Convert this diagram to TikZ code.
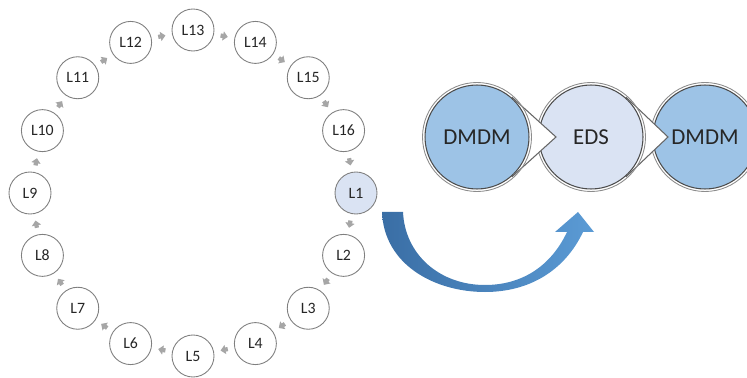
\documentclass[tikz,border=0pt]{standalone}
\usepackage{fontspec}
\setmainfont{Carlito}
\usetikzlibrary{calc,arrows.meta}

\definecolor{ringline}{HTML}{7F7F7F}
\definecolor{ringarr}{HTML}{A6A6A6}
\definecolor{paleblue}{HTML}{DAE3F3}
\definecolor{midblue}{HTML}{9DC3E6}
\definecolor{darkblue}{HTML}{3A6EA5}
\definecolor{lightblue}{HTML}{5B9BD5}
\definecolor{txt}{HTML}{262626}

\begin{document}
\begin{tikzpicture}[x=0.02cm,y=-0.02cm]
  \tikzstyle{ring}=[circle,draw=ringline,line width=0.5pt,fill=white,minimum size=0.84cm,
    inner sep=0pt,text=txt,font=\fontsize{9}{10}\selectfont]
  \tikzstyle{ringarrow}=[draw=ringarr,line width=2.4pt,-{Triangle[length=2.8pt,width=5.2pt]},
    shorten <=3.8pt,shorten >=3.8pt]
  \tikzstyle{stage}=[circle,draw=black!70,line width=0.6pt,minimum size=2.08cm,inner sep=0pt,
    text=txt,font=\fontsize{13}{15}\selectfont]
  \tikzstyle{halo}=[draw=black!45,line width=0.5pt]
  \tikzstyle{tip}=[fill=white,draw=black!60,line width=0.6pt,line join=miter]

  \useasboundingbox (0,0) rectangle (747,378);
  \coordinate (ctr) at (193,193);

  % the ring of sixteen
  \node[ring,fill=paleblue] (L1) at ($(ctr)+(0:163)$) {L1};
  \node[ring] (L2)  at ($(ctr)+(22.5:163)$)  {L2};
  \node[ring] (L3)  at ($(ctr)+(45:163)$)    {L3};
  \node[ring] (L4)  at ($(ctr)+(67.5:163)$)  {L4};
  \node[ring] (L5)  at ($(ctr)+(90:163)$)    {L5};
  \node[ring] (L6)  at ($(ctr)+(112.5:163)$) {L6};
  \node[ring] (L7)  at ($(ctr)+(135:163)$)   {L7};
  \node[ring] (L8)  at ($(ctr)+(157.5:163)$) {L8};
  \node[ring] (L9)  at ($(ctr)+(180:163)$)   {L9};
  \node[ring] (L10) at ($(ctr)+(202.5:163)$) {L10};
  \node[ring] (L11) at ($(ctr)+(225:163)$)   {L11};
  \node[ring] (L12) at ($(ctr)+(247.5:163)$) {L12};
  \node[ring] (L13) at ($(ctr)+(270:163)$)   {L13};
  \node[ring] (L14) at ($(ctr)+(292.5:163)$) {L14};
  \node[ring] (L15) at ($(ctr)+(315:163)$)   {L15};
  \node[ring] (L16) at ($(ctr)+(337.5:163)$) {L16};

  \draw[ringarrow] (L1) -- (L2);
  \draw[ringarrow] (L2) -- (L3);
  \draw[ringarrow] (L3) -- (L4);
  \draw[ringarrow] (L4) -- (L5);
  \draw[ringarrow] (L5) -- (L6);
  \draw[ringarrow] (L6) -- (L7);
  \draw[ringarrow] (L7) -- (L8);
  \draw[ringarrow] (L8) -- (L9);
  \draw[ringarrow] (L9) -- (L10);
  \draw[ringarrow] (L10) -- (L11);
  \draw[ringarrow] (L11) -- (L12);
  \draw[ringarrow] (L12) -- (L13);
  \draw[ringarrow] (L13) -- (L14);
  \draw[ringarrow] (L14) -- (L15);
  \draw[ringarrow] (L15) -- (L16);
  \draw[ringarrow] (L16) -- (L1);

  % the stages, drawn right to left so each tip lies over the next circle
  \coordinate (cA) at (477,137);
  \coordinate (cE) at (591,137);
  \coordinate (cB) at (705,137);

  \draw[halo] (cB) circle [radius=1.09cm];
  \node[stage,fill=midblue] (dmdmB) at (cB) {DMDM};

  \filldraw[tip] ($(cE)+(-48:53)$) -- ($(cE)+(77,0)$) -- ($(cE)+(48:53)$) -- (cE) -- cycle;
  \draw[halo] (cE) circle [radius=1.09cm];
  \node[stage,fill=paleblue] (eds) at (cE) {EDS};

  \filldraw[tip] ($(cA)+(-48:53)$) -- ($(cA)+(79,0)$) -- ($(cA)+(48:53)$) -- (cA) -- cycle;
  \draw[halo] (cA) circle [radius=1.09cm];
  \node[stage,fill=midblue] (dmdmA) at (cA) {DMDM};

  % the big curved arrow
  \shade[left color=darkblue,right color=lightblue]
    (403,212) -- (382,212) .. controls (384,265) and (435,292) .. (485,292)
    .. controls (530,292) and (565,270) .. (583,232) -- (594,232) -- (578,212)
    -- (555,232) -- (567,232) .. controls (550,268) and (520,285) .. (485,285)
    .. controls (440,285) and (405,255) .. (403,212) -- cycle;
\end{tikzpicture}
\end{document}
